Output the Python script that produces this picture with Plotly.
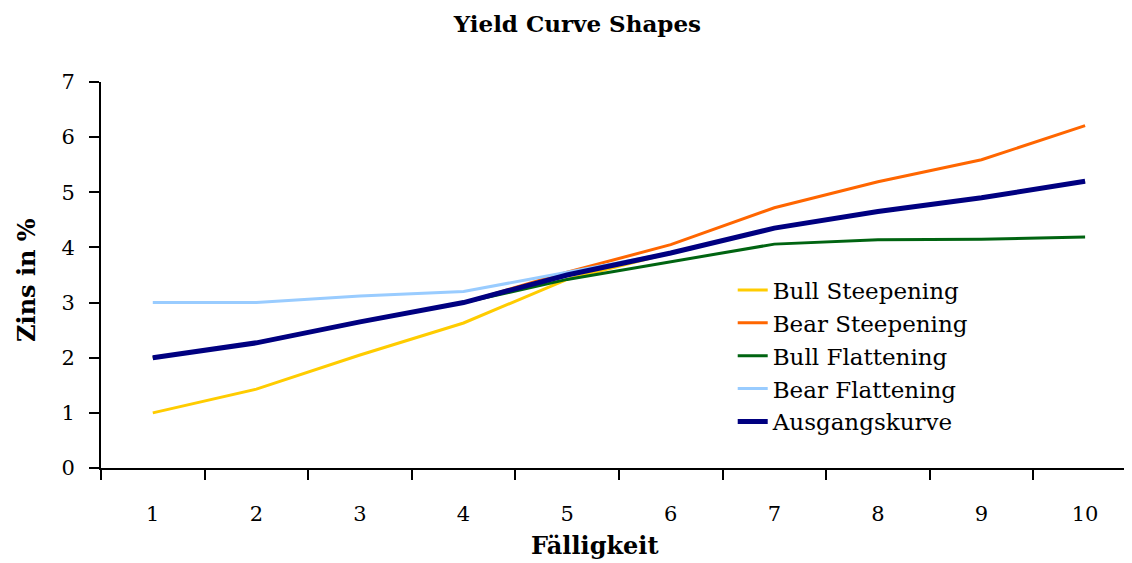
import plotly.graph_objs as go

# Maturities (categories) and yields in %
maturity = [1, 2, 3, 4, 5, 6, 7, 8, 9, 10]
bull_steepening = [1.0, 1.43, 2.05, 2.63, 3.42, 3.9, 4.35, 4.65, 4.9, 5.2]
bear_steepening = [2.0, 2.27, 2.65, 3.0, 3.55, 4.05, 4.72, 5.19, 5.59, 6.21]
bull_flattening = [2.0, 2.27, 2.65, 3.0, 3.42, 3.74, 4.06, 4.14, 4.15, 4.19]
bear_flattening = [3.0, 3.0, 3.12, 3.2, 3.55, 3.9, 4.35, 4.65, 4.9, 5.2]
ausgangskurve = [2.0, 2.27, 2.65, 3.0, 3.5, 3.9, 4.35, 4.65, 4.9, 5.2]
y_ticks = [0, 1, 2, 3, 4, 5, 6, 7]

C = {
    "bull_st": "#ffcc00",
    "bear_st": "#ff6600",
    "bull_fl": "#006411",
    "bear_fl": "#99ccff",
    "base": "#000080",
}

SERIF = "DejaVu Serif"

fig = go.Figure()
fig.add_trace(go.Scatter(x=maturity, y=bull_steepening, name="Bull Steepening", mode="lines",
                         line=dict(width=3, color=C["bull_st"])))
fig.add_trace(go.Scatter(x=maturity, y=bear_steepening, name="Bear Steepening", mode="lines",
                         line=dict(width=3, color=C["bear_st"])))
fig.add_trace(go.Scatter(x=maturity, y=bull_flattening, name="Bull Flattening", mode="lines",
                         line=dict(width=3, color=C["bull_fl"])))
fig.add_trace(go.Scatter(x=maturity, y=bear_flattening, name="Bear Flattening", mode="lines",
                         line=dict(width=3, color=C["bear_fl"])))
fig.add_trace(go.Scatter(x=maturity, y=ausgangskurve, name="Ausgangskurve", mode="lines",
                         line=dict(width=5, color=C["base"])))

# page body adds an 8px offset, margins compensate for it
fig.update_layout(
    width=1132,
    height=563,
    paper_bgcolor="white",
    plot_bgcolor="white",
    font=dict(family=SERIF, color="#000000", size=21),
    title=dict(text="<b>Yield Curve Shapes</b>", x=0.503, xanchor="center", y=0.972, yanchor="middle",
               font=dict(family=SERIF, size=23, color="#000000")),
    xaxis=dict(
        range=[0.5, 10.53],
        tickvals=maturity,
        ticktext=[str(m) for m in maturity],
        ticks="",
        ticklabelstandoff=26,
        showline=True, linecolor="#000000", linewidth=2,
        showgrid=False, zeroline=False, automargin=False,
        minor=dict(ticks="outside", tick0=0.5, dtick=1, ticklen=10, tickwidth=2, tickcolor="#000000"),
    ),
    yaxis=dict(
        range=[0, 7],
        tickvals=y_ticks,
        ticks="outside", ticklen=10, tickwidth=2, tickcolor="#000000",
        ticklabelstandoff=10,
        showline=True, linecolor="#000000", linewidth=2,
        showgrid=False, zeroline=False, automargin=False,
    ),
    legend=dict(
        x=0.608, xanchor="left", y=0.517, yanchor="top",
        bgcolor="rgba(0,0,0,0)",
        font=dict(family=SERIF, size=23),
        tracegroupgap=0,
    ),
    margin=dict(l=93, r=0, t=74, b=103, autoexpand=False),
)

fig.add_annotation(text="<b>Fälligkeit</b>", xref="paper", yref="paper", x=0.4755, y=-0.1995,
                   xanchor="center", yanchor="middle", showarrow=False,
                   font=dict(family=SERIF, size=24, color="#000000"))
fig.add_annotation(text="<b>Zins in %</b>", xref="paper", yref="paper", x=-0.0722, y=0.487,
                   xanchor="center", yanchor="middle", textangle=-90, showarrow=False,
                   font=dict(family=SERIF, size=24, color="#000000"))

fig.write_html("out.html")
